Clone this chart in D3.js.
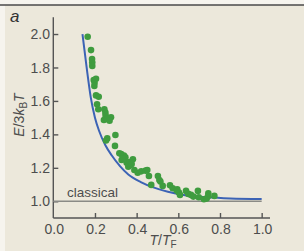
<!DOCTYPE html>
<html>
<head>
<meta charset="utf-8">
<script src="https://cdn.jsdelivr.net/npm/d3@7"></script>
<style>
  body { margin: 0; background: #f6f4ee; }
  svg { display: block; font-family: "Liberation Sans", Arial, sans-serif; }
</style>
</head>
<body>
<div id="chart"></div>
<script>
// theory curve
var curveT = [0.14, 0.16, 0.18, 0.20, 0.22, 0.25, 0.28, 0.32, 0.36, 0.42, 0.48, 0.55, 0.64, 0.74, 0.85, 1.0];
var curveE = [2.00, 1.80, 1.62, 1.50, 1.42, 1.335, 1.275, 1.21, 1.16, 1.115, 1.083, 1.057, 1.035, 1.024, 1.017, 1.013];

// measured points
var dotT = [0.165, 0.181, 0.186, 0.187, 0.187, 0.194, 0.205, 0.198, 0.197, 0.205, 0.218, 0.210, 0.216,
  0.245, 0.250, 0.243, 0.251, 0.258, 0.277, 0.270, 0.298, 0.259, 0.253, 0.296, 0.317, 0.326, 0.339,
  0.328, 0.346, 0.352, 0.360, 0.365, 0.382, 0.371, 0.389, 0.405, 0.422, 0.443, 0.451, 0.459, 0.470,
  0.502, 0.509, 0.525, 0.514, 0.560, 0.573, 0.592, 0.603, 0.608, 0.637, 0.648, 0.661, 0.672, 0.694,
  0.698, 0.723, 0.736, 0.742, 0.744, 0.773, 0.595, 0.333, 0.376];
var dotE = [1.984, 1.904, 1.851, 1.829, 1.809, 1.725, 1.733, 1.709, 1.689, 1.633, 1.625, 1.580, 1.550,
  1.550, 1.530, 1.486, 1.512, 1.492, 1.502, 1.482, 1.396, 1.376, 1.363, 1.331, 1.287, 1.283, 1.273,
  1.247, 1.263, 1.231, 1.207, 1.235, 1.251, 1.217, 1.187, 1.171, 1.179, 1.183, 1.187, 1.151, 1.098,
  1.151, 1.127, 1.092, 1.118, 1.096, 1.078, 1.064, 1.052, 1.038, 1.062, 1.044, 1.038, 1.028, 1.062,
  1.024, 1.012, 1.016, 1.028, 1.048, 1.032, 1.072, 1.257, 1.223];

var xTicks = [0.0, 0.2, 0.4, 0.6, 0.8, 1.0];
var yTicks = [1.0, 1.2, 1.4, 1.6, 1.8, 2.0];

var W = 304, H = 251;
var svg = d3.select('#chart').append('svg').attr('width', W).attr('height', H);

// panel
svg.append('rect').attr('x', 5).attr('y', 5).attr('width', W - 5).attr('height', H - 5).attr('fill', '#ece8db');
svg.append('line').attr('x1', 0).attr('x2', W).attr('y1', 5).attr('y2', 5)
  .attr('stroke', '#4a4a4a').attr('stroke-width', 1.6);

var x = d3.scaleLinear().domain([0, 1.04]).range([53.3, 270]);
var y = d3.scaleLinear().domain([0.9, 2.1]).range([218, 17.3]);

var axisCol = '#555', textCol = '#4d4d4d';

// y axis, ticks inward
var ya = svg.append('g').attr('transform', 'translate(' + x(0) + ',0)')
  .call(d3.axisRight(y).tickValues(yTicks).tickSize(5).tickFormat(''));
ya.select('.domain').attr('d', 'M0,' + y(2.1) + 'V' + y(0.9));
ya.selectAll('path,line').attr('stroke', axisCol).attr('stroke-width', 1.4);
svg.selectAll('.ylab').data(yTicks).enter().append('text')
  .attr('x', 50).attr('y', function(d){ return y(d); }).attr('dy', '0.36em')
  .attr('text-anchor', 'end').attr('font-size', 14).attr('fill', textCol)
  .text(d3.format('.1f'));

// x axis, ticks inward
var xa = svg.append('g').attr('transform', 'translate(0,' + y(0.9) + ')')
  .call(d3.axisTop(x).tickValues(xTicks.slice(1)).tickSize(5).tickFormat(''));
xa.select('.domain').attr('d', 'M' + x(0) + ',0H' + x(1.04));
xa.selectAll('path,line').attr('stroke', axisCol).attr('stroke-width', 1.4);
svg.selectAll('.xlab').data(xTicks).enter().append('text')
  .attr('x', function(d){ return x(d) + 1; }).attr('y', 234)
  .attr('text-anchor', 'middle').attr('font-size', 14).attr('fill', textCol)
  .text(d3.format('.1f'));

// classical line
svg.append('line').attr('x1', x(0)).attr('x2', x(1)).attr('y1', y(1)).attr('y2', y(1))
  .attr('stroke', '#8a8a86').attr('stroke-width', 1.5);
svg.append('text').attr('x', 67).attr('y', 197).attr('font-size', 13.5).attr('fill', textCol).text('classical');

// theory curve
var line = d3.line().curve(d3.curveMonotoneX)
  .x(function(d){ return x(d[0]); }).y(function(d){ return y(d[1]); });
svg.append('path').datum(d3.zip(curveT, curveE)).attr('d', line)
  .attr('fill', 'none').attr('stroke', '#3c63b5').attr('stroke-width', 2);

// dots
svg.selectAll('.dot').data(d3.zip(dotT, dotE)).enter().append('circle')
  .attr('cx', function(d){ return x(d[0]); }).attr('cy', function(d){ return y(d[1]); })
  .attr('r', 3.3).attr('fill', '#3f9c3f');

// titles
svg.append('text').attr('x', 10).attr('y', 22).attr('font-size', 17).attr('font-style', 'italic')
  .attr('fill', '#333').text('a');

var yt = svg.append('text').attr('transform', 'translate(24,' + 115 + ') rotate(-90)')
  .attr('text-anchor', 'middle').attr('font-size', 14).attr('fill', textCol).attr('font-style', 'italic');
yt.append('tspan').text('E');
yt.append('tspan').attr('font-style', 'normal').text('/3');
yt.append('tspan').text('k');
yt.append('tspan').attr('font-style', 'normal').attr('font-size', 10).attr('dy', 3).text('B');
yt.append('tspan').attr('dy', -3).text('T');

var xt = svg.append('text').attr('x', 163).attr('y', 245)
  .attr('text-anchor', 'middle').attr('font-size', 14).attr('fill', textCol).attr('font-style', 'italic');
xt.append('tspan').text('T');
xt.append('tspan').attr('font-style', 'normal').text('/');
xt.append('tspan').text('T');
xt.append('tspan').attr('font-style', 'normal').attr('font-size', 10).attr('dy', 2.5).text('F');
</script>
</body>
</html>
